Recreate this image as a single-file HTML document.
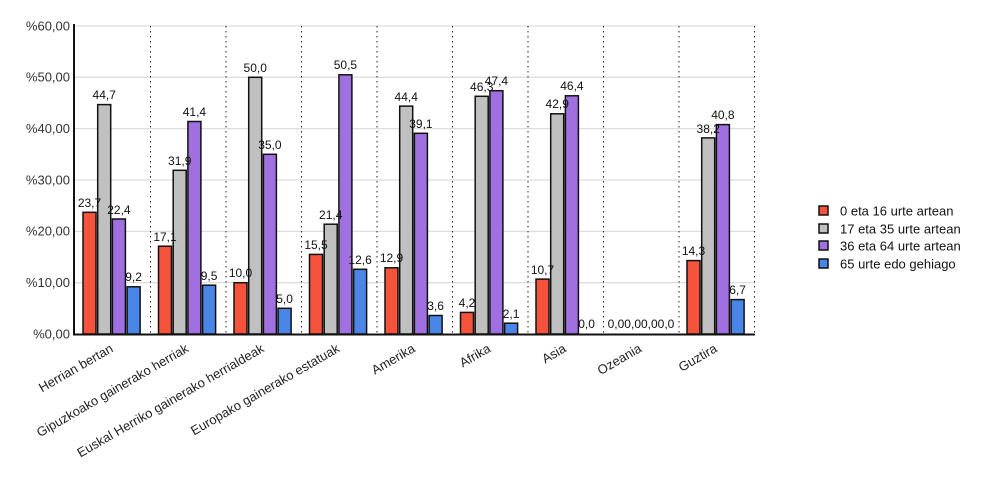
<!DOCTYPE html>
<html><head><meta charset="utf-8"><style>
html,body{margin:0;padding:0;background:#fff;}
svg{display:block;font-family:"Liberation Sans",Arial,sans-serif;}
.r{fill:#f5533b}.g{fill:#c0c0c0}.p{fill:#a070e0}.b{fill:#4a86e8}
rect.bar{stroke:#111;stroke-width:1.5}
.v{font-size:12px;fill:#111;text-anchor:middle}
.y{font-size:13px;fill:#333;text-anchor:end}
.x{font-size:13px;fill:#222;text-anchor:end}
.l{font-size:13px;fill:#111}
</style></head><body>
<svg width="1000" height="500" viewBox="0 0 1000 500">
<g stroke="#d4d4d4" stroke-width="1">
<line x1="74" y1="282.7" x2="755" y2="282.7"/><line x1="74" y1="231.3" x2="755" y2="231.3"/>
<line x1="74" y1="180" x2="755" y2="180"/><line x1="74" y1="128.7" x2="755" y2="128.7"/>
<line x1="74" y1="77.3" x2="755" y2="77.3"/><line x1="74" y1="26" x2="755" y2="26"/>
</g>
<g stroke="#222" stroke-width="1" stroke-dasharray="1.5,3.5">
<line x1="150.5" y1="26" x2="150.5" y2="334"/><line x1="226" y1="26" x2="226" y2="334"/>
<line x1="301.5" y1="26" x2="301.5" y2="334"/><line x1="377" y1="26" x2="377" y2="334"/>
<line x1="452.5" y1="26" x2="452.5" y2="334"/><line x1="528" y1="26" x2="528" y2="334"/>
<line x1="603.5" y1="26" x2="603.5" y2="334"/><line x1="679" y1="26" x2="679" y2="334"/>
<line x1="754.5" y1="26" x2="754.5" y2="334"/>
</g>
<g class="y">
<text x="70" y="338.5">%0,00</text><text x="70" y="287">%10,00</text><text x="70" y="235.5">%20,00</text>
<text x="70" y="184.5">%30,00</text><text x="70" y="133">%40,00</text><text x="70" y="81.5">%50,00</text><text x="70" y="30.5">%60,00</text>
</g>

<g transform="translate(83,0)">
<rect class="bar r" x="0" y="212.3" width="13" height="121.7"/><rect class="bar g" x="14.7" y="104.6" width="13" height="229.4"/><rect class="bar p" x="29.4" y="219" width="13" height="115"/><rect class="bar b" x="44.1" y="286.8" width="13" height="47.2"/>
<text class="v" x="6.5" y="207">23,7</text><text class="v" x="21.2" y="99">44,7</text><text class="v" x="35.9" y="214">22,4</text><text class="v" x="50.6" y="281">9,2</text>
</g>
<g transform="translate(158.5,0)">
<rect class="bar r" x="0" y="246.2" width="13" height="87.8"/><rect class="bar g" x="14.7" y="170.3" width="13" height="163.7"/><rect class="bar p" x="29.4" y="121.5" width="13" height="212.5"/><rect class="bar b" x="44.1" y="285.2" width="13" height="48.8"/>
<text class="v" x="6.5" y="241">17,1</text><text class="v" x="21.2" y="165">31,9</text><text class="v" x="35.9" y="116">41,4</text><text class="v" x="50.6" y="280">9,5</text>
</g>
<g transform="translate(234,0)">
<rect class="bar r" x="0" y="282.7" width="13" height="51.3"/><rect class="bar g" x="14.7" y="77.3" width="13" height="256.7"/><rect class="bar p" x="29.4" y="154.3" width="13" height="179.7"/><rect class="bar b" x="44.1" y="308.3" width="13" height="25.7"/>
<text class="v" x="6.5" y="277">10,0</text><text class="v" x="21.2" y="72">50,0</text><text class="v" x="35.9" y="149">35,0</text><text class="v" x="50.6" y="303">5,0</text>
</g>
<g transform="translate(309.5,0)">
<rect class="bar r" x="0" y="254.4" width="13" height="79.6"/><rect class="bar g" x="14.7" y="224.2" width="13" height="109.8"/><rect class="bar p" x="29.4" y="74.8" width="13" height="259.2"/><rect class="bar b" x="44.1" y="269.3" width="13" height="64.7"/>
<text class="v" x="6.5" y="249">15,5</text><text class="v" x="21.2" y="219">21,4</text><text class="v" x="35.9" y="69">50,5</text><text class="v" x="50.6" y="264">12,6</text>
</g>
<g transform="translate(385,0)">
<rect class="bar r" x="0" y="267.8" width="13" height="66.2"/><rect class="bar g" x="14.7" y="106.1" width="13" height="227.9"/><rect class="bar p" x="29.4" y="133.3" width="13" height="200.7"/><rect class="bar b" x="44.1" y="315.5" width="13" height="18.5"/>
<text class="v" x="6.5" y="262">12,9</text><text class="v" x="21.2" y="101">44,4</text><text class="v" x="35.9" y="128">39,1</text><text class="v" x="50.6" y="310">3,6</text>
</g>
<g transform="translate(460.5,0)">
<rect class="bar r" x="0" y="312.4" width="13" height="21.6"/><rect class="bar g" x="14.7" y="96.3" width="13" height="237.7"/><rect class="bar p" x="29.4" y="90.7" width="13" height="243.3"/><rect class="bar b" x="44.1" y="323.2" width="13" height="10.8"/>
<text class="v" x="6.5" y="307">4,2</text><text class="v" x="21.2" y="91">46,3</text><text class="v" x="35.9" y="85">47,4</text><text class="v" x="50.6" y="318">2,1</text>
</g>
<g transform="translate(536,0)">
<rect class="bar r" x="0" y="279.1" width="13" height="54.9"/><rect class="bar g" x="14.7" y="113.8" width="13" height="220.2"/><rect class="bar p" x="29.4" y="95.8" width="13" height="238.2"/>
<text class="v" x="6.5" y="274">10,7</text><text class="v" x="21.2" y="108">42,9</text><text class="v" x="35.9" y="90">46,4</text><text class="v" x="50.6" y="328">0,0</text>
</g>
<text class="v" x="641" y="328">0,00,00,00,0</text>
<g transform="translate(687,0)">
<rect class="bar r" x="0" y="260.6" width="13" height="73.4"/><rect class="bar g" x="14.7" y="137.9" width="13" height="196.1"/><rect class="bar p" x="29.4" y="124.6" width="13" height="209.4"/><rect class="bar b" x="44.1" y="299.6" width="13" height="34.4"/>
<text class="v" x="6.5" y="255">14,3</text><text class="v" x="21.2" y="133">38,2</text><text class="v" x="35.9" y="119">40,8</text><text class="v" x="50.6" y="294">6,7</text>
</g>

<line x1="74" y1="24" x2="74" y2="335" stroke="#111" stroke-width="2"/>
<line x1="73" y1="334.5" x2="755" y2="334.5" stroke="#111" stroke-width="2"/>

<g class="x">
<text transform="translate(114,351) rotate(-30)">Herrian bertan</text>
<text transform="translate(189.5,351) rotate(-30)">Gipuzkoako gainerako herriak</text>
<text transform="translate(265,351) rotate(-30)">Euskal Herriko gainerako herrialdeak</text>
<text transform="translate(340.5,351) rotate(-30)">Europako gainerako estatuak</text>
<text transform="translate(416,351) rotate(-30)">Amerika</text>
<text transform="translate(491.5,351) rotate(-30)">Afrika</text>
<text transform="translate(567,351) rotate(-30)">Asia</text>
<text transform="translate(642.5,351) rotate(-30)">Ozeania</text>
<text transform="translate(718,351) rotate(-30)">Guztira</text>
</g>

<g>
<rect x="819" y="206" width="9" height="9" class="r" stroke="#111" stroke-width="1.5"/>
<rect x="819" y="224" width="9" height="9" class="g" stroke="#111" stroke-width="1.5"/>
<rect x="819" y="241" width="9" height="9" class="p" stroke="#111" stroke-width="1.5"/>
<rect x="819" y="259" width="9" height="9" class="b" stroke="#111" stroke-width="1.5"/>
<text class="l" x="840" y="215.5">0 eta 16 urte artean</text>
<text class="l" x="840" y="233.5">17 eta 35 urte artean</text>
<text class="l" x="840" y="250.5">36 eta 64 urte artean</text>
<text class="l" x="840" y="268.5">65 urte edo gehiago</text>
</g>
</svg>
</body></html>
